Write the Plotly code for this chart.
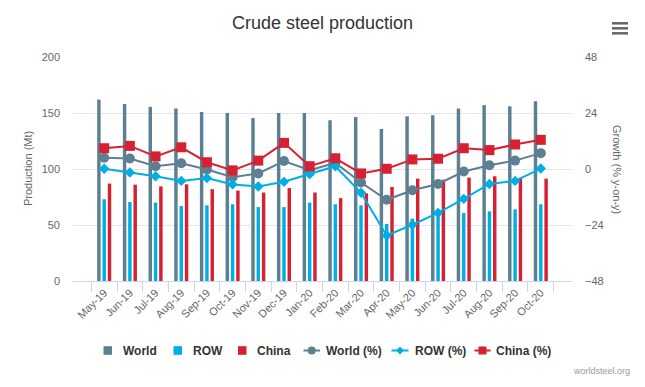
import plotly.graph_objects as go

months = ["May-19", "Jun-19", "Jul-19", "Aug-19", "Sep-19", "Oct-19", "Nov-19", "Dec-19", "Jan-20",
          "Feb-20", "Mar-20", "Apr-20", "May-20", "Jun-20", "Jul-20", "Aug-20", "Sep-20", "Oct-20"]
world = [162, 158, 155.5, 154, 151, 150, 145.5, 150, 150, 143.5, 146.5, 135.7, 147, 148, 154, 157, 156, 160.5]
row = [73, 70.5, 70, 67, 67.6, 68.5, 66, 66, 70, 68.5, 67.6, 51, 55.7, 60.7, 60.7, 62.2, 64, 68.5]
china = [87, 86, 84.5, 86.3, 82, 80.7, 79, 83, 79, 74, 78.3, 84, 91.4, 90.5, 92.3, 93.5, 92, 91.4]
world_pct = [4.8, 4.5, 1.2, 2.5, -0.2, -3.5, -1.9, 3.4, -0.5, 2.6, -5.8, -13.2, -9.1, -6.4, -1.1, 1.6, 3.6, 6.8]
row_pct = [0.1, -1.5, -3.1, -5.1, -3.9, -6.6, -7.5, -5.5, -2.2, 1.2, -10.2, -28.5, -23.9, -18.8, -12.8, -6.4, -5.1, 0.2]
china_pct = [8.9, 9.9, 5.4, 9.3, 2.9, -0.6, 3.6, 11.2, 1.2, 4.6, -1.9, 0.1, 4.1, 4.4, 8.9, 8.1, 10.5, 12.5]

C_WORLD = "#5c7f92"
C_ROW = "#00aee6"
C_CHINA = "#d52131"
FONT = "Liberation Sans"

L, R, T, B = 73, 73, 57, 106
W, H = 645, 387
pw = W - L - R
ph = H - T - B


def px(x):
    return (x - L) / pw


def py(y):
    return (H - B - y) / ph


fig = go.Figure()
bar_series = [("World", world, C_WORLD), ("ROW", row, C_ROW), ("China", china, C_CHINA)]
for name, vals, col in bar_series:
    fig.add_trace(go.Bar(x=months, y=vals, name=name, marker=dict(color=col, line=dict(width=0)),
                         yaxis="y", showlegend=False))

line_series = [("World (%)", world_pct, C_WORLD, "circle", 10),
               ("ROW (%)", row_pct, C_ROW, "diamond", 8),
               ("China (%)", china_pct, C_CHINA, "square", 10)]
for name, vals, col, sym, sz in line_series:
    fig.add_trace(go.Scatter(x=months, y=vals, name=name, mode="lines+markers", yaxis="y2",
                             line=dict(color=col, width=2), showlegend=False,
                             marker=dict(symbol=sym, size=sz, color=col)))

# ---- hand-drawn legend (Highcharts style) ----
LY = 350.5
shapes = []
annotations = []
bar_leg = [(103.5, 120.5), (173.5, 190.5), (238, 254.5)]
for (sx, tx), (name, _, col) in zip(bar_leg, bar_series):
    shapes.append(dict(type="rect", xref="paper", yref="paper", x0=px(sx), x1=px(sx + 8.5),
                       y0=py(LY - 4.3), y1=py(LY + 4.3), fillcolor=col, line=dict(width=0)))
    annotations.append(dict(text="<b>%s</b>" % name, x=px(tx), y=py(LY), xref="paper", yref="paper",
                            xanchor="left", yanchor="middle", showarrow=False,
                            font=dict(size=12, color="#333333", family=FONT)))

line_leg = [(303.5, 320, 323.5), (391.5, 408.5, 412.5), (474.5, 490.5, 494)]
for (x0, x1, tx), (name, _, col, sym, _) in zip(line_leg, line_series):
    shapes.append(dict(type="line", xref="paper", yref="paper", x0=px(x0), x1=px(x1),
                       y0=py(LY), y1=py(LY), line=dict(color=col, width=2)))
    cx = (x0 + x1) / 2
    r = 4
    if sym == "circle":
        shapes.append(dict(type="circle", xref="paper", yref="paper", x0=px(cx - r), x1=px(cx + r),
                           y0=py(LY - r), y1=py(LY + r), fillcolor=col, line=dict(width=0)))
    elif sym == "diamond":
        path = "M %f %f L %f %f L %f %f L %f %f Z" % (px(cx), py(LY - r), px(cx + r), py(LY),
                                                     px(cx), py(LY + r), px(cx - r), py(LY))
        shapes.append(dict(type="path", xref="paper", yref="paper", path=path, fillcolor=col,
                           line=dict(width=0)))
    else:
        shapes.append(dict(type="rect", xref="paper", yref="paper", x0=px(cx - r), x1=px(cx + r),
                           y0=py(LY - r), y1=py(LY + r), fillcolor=col, line=dict(width=0)))
    annotations.append(dict(text="<b>%s</b>" % name, x=px(tx), y=py(LY), xref="paper", yref="paper",
                            xanchor="left", yanchor="middle", showarrow=False,
                            font=dict(size=12, color="#333333", family=FONT)))

annotations += [
    dict(text="Production (Mt)", x=px(28), y=0.5, xref="paper", yref="paper", textangle=-90,
         xanchor="center", yanchor="middle",
         showarrow=False, font=dict(size=11, color="#666666")),
    dict(text="Growth (% y-on-y)", x=px(617), y=0.5, xref="paper", yref="paper", textangle=90,
         xanchor="center", yanchor="middle",
         showarrow=False, font=dict(size=11, color="#666666")),
    dict(text="worldsteel.org", x=px(632), y=py(371), xref="paper", yref="paper", xanchor="right",
         yanchor="middle", showarrow=False, font=dict(size=9, color="#999999")),
]
shapes += [dict(type="line", xref="paper", yref="paper", x0=px(612), x1=px(628), y0=py(yy), y1=py(yy),
                line=dict(color="#666666", width=2.5)) for yy in (23.3, 28.3, 33.3)]

fig.update_layout(
    width=W, height=H,
    margin=dict(l=L, r=R, t=T, b=B, autoexpand=False),
    paper_bgcolor="white", plot_bgcolor="white",
    font=dict(family=FONT, color="#666666", size=11),
    title=dict(text="Crude steel production", x=0.5, xanchor="center", y=1 - 23 / H, yanchor="middle",
               font=dict(size=18, color="#333333", family=FONT)),
    barmode="group", bargap=0.38, bargroupgap=0.35,
    showlegend=False,
    xaxis=dict(type="category", tickangle=-45, tickson="boundaries", ticks="outside", ticklen=10,
               tickcolor="#ccd6eb", showline=True, linecolor="#ccd6eb", linewidth=1, showgrid=False,
               tickfont=dict(size=11, color="#666666")),
    yaxis=dict(range=[0, 200], dtick=50, showgrid=True, gridcolor="#e6e6e6", zeroline=False,
               showline=False, ticks="", ticklabelstandoff=12, tickfont=dict(size=11, color="#666666")),
    yaxis2=dict(range=[-48, 48], dtick=24, overlaying="y", side="right", showgrid=False, zeroline=False,
                showline=False, ticks="", ticklabelstandoff=12, tickfont=dict(size=11, color="#666666")),
    annotations=annotations,
    shapes=shapes,
)

fig.write_html("out.html", post_script="document.body.style.margin='0';",
               config={"displayModeBar": False})
